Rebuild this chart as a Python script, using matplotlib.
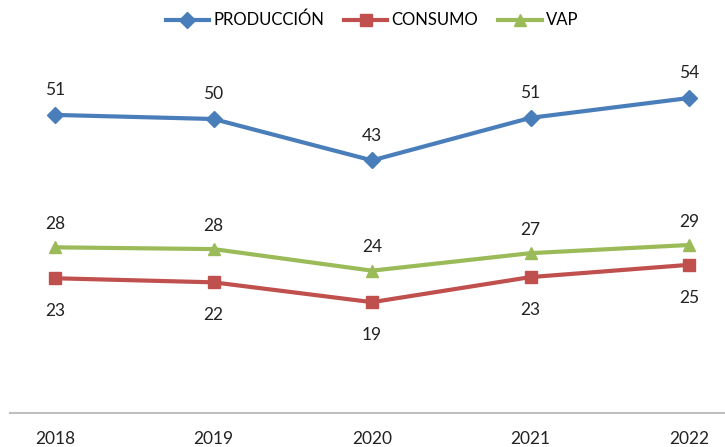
import matplotlib
matplotlib.use("Agg")
import matplotlib.pyplot as plt

years = ["2018", "2019", "2020", "2021", "2022"]
produccion = [51.1, 50.4, 43.3, 50.6, 54.0]
consumo = [23.1, 22.4, 19.0, 23.3, 25.4]
vap = [28.4, 28.1, 24.4, 27.4, 28.8]

plt.rcParams["font.family"] = ["Lato", "DejaVu Sans"]

fig = plt.figure(figsize=(7.25, 4.47), dpi=100)
ax = fig.add_axes([10 / 725, 34 / 447, 715 / 725, 350 / 447])

x = range(len(years))
series = [
    ("PRODUCCIÓN", produccion, "#4A7EBB", "D", 8, 12),
    ("CONSUMO", consumo, "#C0504D", "s", 9, -18),
    ("VAP", vap, "#9BBB59", "^", 9, 11),
]
for name, vals, color, marker, ms, off in series:
    ax.plot(x, vals, color=color, lw=3, marker=marker, ms=ms, label=name)
    for xi, v in zip(x, vals):
        ax.annotate("%.0f" % v, (xi, v), xytext=(0, off), textcoords="offset points",
                    ha="center", va="bottom" if off > 0 else "top",
                    fontsize=12.5, color="#222222")

ax.set_xlim(-0.284, 4.227)
ax.set_ylim(0, 60)
ax.set_yticks([])
ax.set_xticks(list(x))
ax.set_xticklabels(years, fontsize=12.5, color="#222222")
ax.tick_params(axis="x", length=0, pad=13)
for s in ["top", "right", "left"]:
    ax.spines[s].set_visible(False)
ax.spines["bottom"].set_color("#BFBFBF")
ax.spines["bottom"].set_linewidth(1.5)

fig.legend(loc="center", bbox_to_anchor=(0.513, 0.955), ncol=3, frameon=False,
           fontsize=12, handlelength=2.6, columnspacing=1.2, handletextpad=0.25)

fig.savefig("out.png", dpi=100)
